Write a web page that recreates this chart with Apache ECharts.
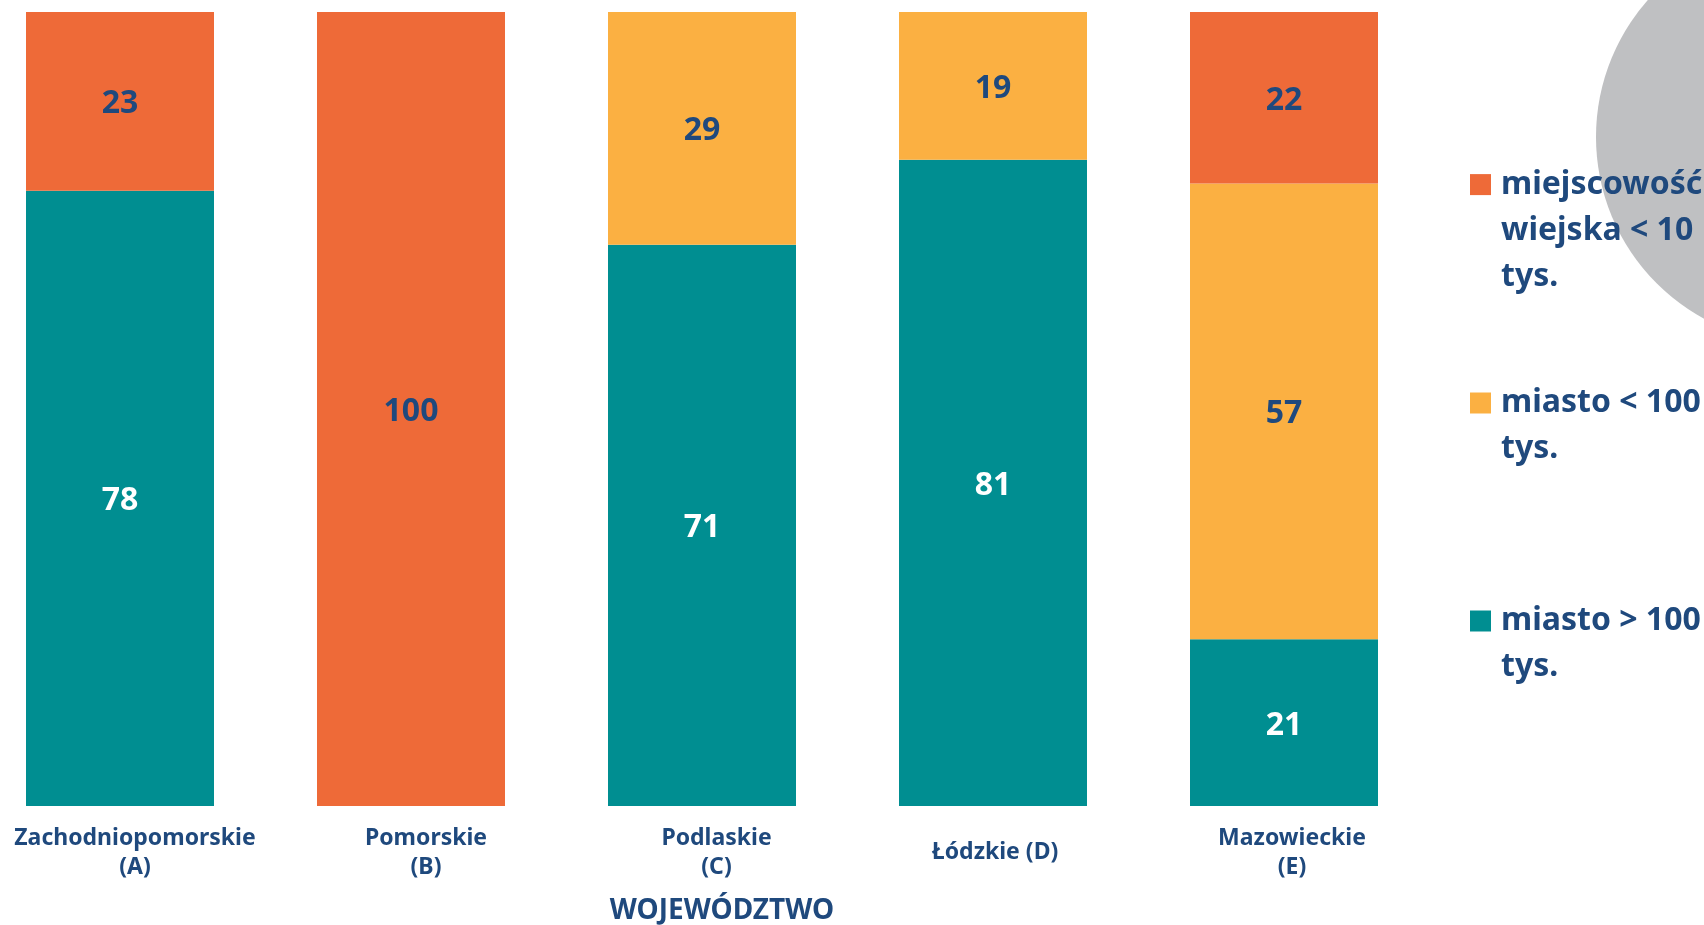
<!DOCTYPE html>
<html>
<head>
<meta charset="utf-8">
<title>Województwo</title>
<script src="https://cdn.jsdelivr.net/npm/echarts@6/dist/echarts.min.js"></script>
<style>
  html, body { margin: 0; padding: 0; background: #fff; }
  #chart { width: 1704px; height: 925px; }
</style>
</head>
<body>
<div id="chart"></div>
<script>
// kategorie (województwa)
const categories = ['Zachodniopomorskie\n(A)', 'Pomorskie\n(B)', 'Podlaskie\n(C)', 'Łódzkie (D)', 'Mazowieckie\n(E)']
// udział w % (od dołu słupka)
const bigCity = [77.5, 0, 70.7, 81.4, 21] // miasto > 100 tys.
const smallCity = [0, 0, 29.3, 18.6, 57.4] // miasto < 100 tys.
const rural = [22.5, 100, 0, 0, 21.6] // miejscowość wiejska < 10 tys.
const seriesNames = ['miasto > 100 tys.', 'miasto < 100 tys.', 'miejscowość wiejska < 10 tys.']
const legendLines = {
  'miejscowość wiejska < 10 tys.': ['miejscowość', 'wiejska < 10', 'tys.'],
  'miasto < 100 tys.': ['miasto < 100', 'tys.'],
  'miasto > 100 tys.': ['miasto > 100', 'tys.']
}

const navy = '#1F497D'
const colors = ['#008E91', '#FBB042', '#EE6A38']
const font = '"Noto Sans", "DejaVu Sans", sans-serif'
// przesunięcie podpisów osi (jak w oryginale)
const labelStyles = ['p30', 'p30', 'p29', 'one', 'p16']

const chartInstance = echarts.init(document.getElementById('chart'))

function barLabel (color) {
  return {
    show: true,
    position: 'inside',
    offset: [0, 3],
    color: color,
    fontFamily: font,
    fontWeight: 'bold',
    fontSize: 32,
    formatter: p => (p.value > 0 ? Math.round(p.value) : '')
  }
}

function makeLegend (name, top) {
  const lines = legendLines[name]
  // puste linie na początku, żeby ikonka była przy pierwszej linii
  const blanks = '\n'.repeat(lines.length - 1)
  return {
    orient: 'vertical',
    left: 1470,
    top: top,
    padding: 0,
    itemWidth: 21,
    itemHeight: 21,
    icon: 'rect',
    selectedMode: false,
    data: [name],
    formatter: () => blanks + lines.join('\n'),
    textStyle: {
      color: navy,
      fontFamily: font,
      fontWeight: 'bold',
      fontSize: 32,
      lineHeight: 46,
      padding: [0, 0, 0, 5]
    }
  }
}

const option = {
  backgroundColor: '#fff',
  animation: false,
  color: colors,
  grid: {
    left: -25.5,
    right: 274.5,
    top: 12,
    bottom: 119,
    outerBoundsMode: 'none'
  },
  graphic: [
    {
      type: 'circle',
      z: 0,
      shape: { cx: 1803, cy: 137, r: 207 },
      style: { fill: '#BFC0C2' }
    },
    {
      type: 'text',
      x: 722,
      y: 911,
      style: {
        text: 'WOJEWÓDZTWO',
        fill: navy,
        font: 'bold 28px ' + font,
        align: 'center',
        verticalAlign: 'middle'
      }
    }
  ],
  legend: [
    makeLegend('miejscowość wiejska < 10 tys.', 69.6),
    makeLegend('miasto < 100 tys.', 334),
    makeLegend('miasto > 100 tys.', 552)
  ],
  xAxis: {
    type: 'category',
    data: categories,
    axisLine: { show: false },
    axisTick: { show: false },
    axisLabel: {
      interval: 0,
      margin: 17.5,
      color: navy,
      fontFamily: font,
      fontWeight: 'bold',
      fontSize: 23,
      formatter: (value, index) => {
        const st = labelStyles[index]
        return value.split('\n').map(l => '{' + st + '|' + l + '}').join('\n')
      },
      rich: {
        p30: { padding: [0, 0, 0, 30], lineHeight: 29 },
        p29: { padding: [0, 0, 0, 29], lineHeight: 29 },
        p16: { padding: [0, 0, 0, 16], lineHeight: 29 },
        one: { padding: [0, 0, 0, 4], lineHeight: 58 }
      }
    }
  },
  yAxis: {
    type: 'value',
    min: 0,
    max: 100,
    show: false
  },
  series: [
    {
      name: seriesNames[0],
      type: 'bar',
      stack: 'total',
      barWidth: 188,
      data: bigCity,
      label: barLabel('#fff')
    },
    {
      name: seriesNames[1],
      type: 'bar',
      stack: 'total',
      barWidth: 188,
      data: smallCity,
      label: barLabel(navy)
    },
    {
      name: seriesNames[2],
      type: 'bar',
      stack: 'total',
      barWidth: 188,
      data: rural,
      label: barLabel(navy)
    }
  ]
}

chartInstance.setOption(option)
</script>
</body>
</html>
